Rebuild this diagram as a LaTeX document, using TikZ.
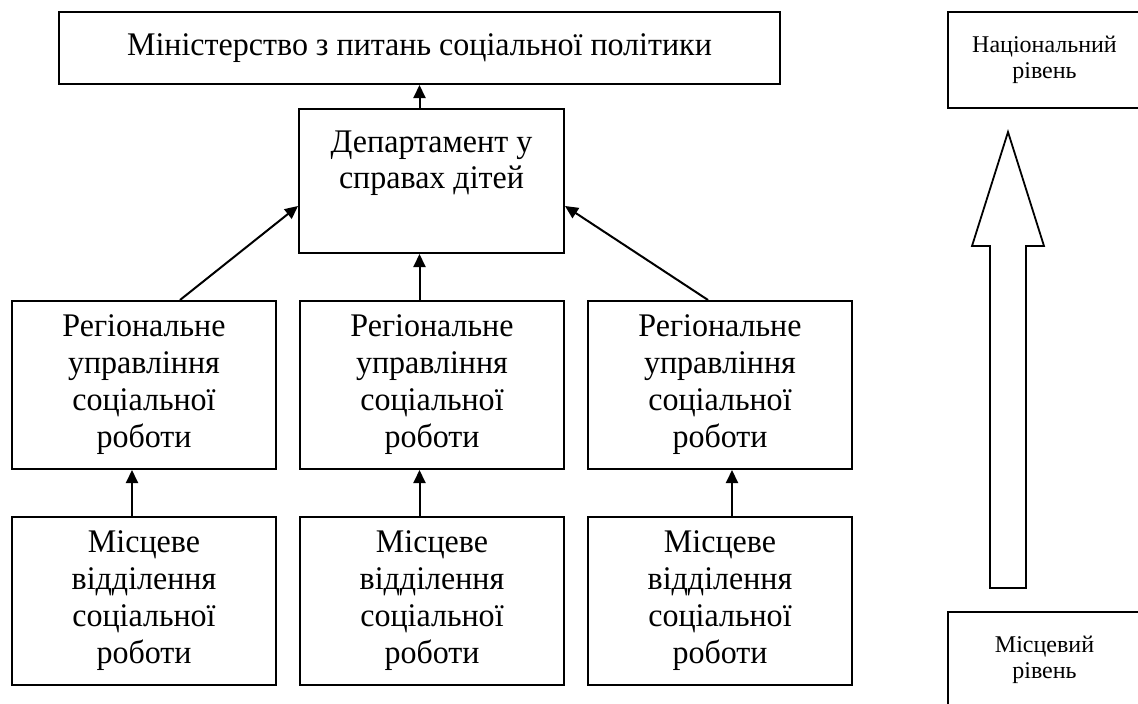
\documentclass[tikz,border=0pt]{standalone}
\usepackage{fontspec}
\setmainfont{Liberation Serif}
\newfontfamily\bodyfont{Liberation Serif}[FakeStretch=0.97]
\usetikzlibrary{arrows.meta}
\begin{document}
\begin{tikzpicture}[x=1pt,y=-1pt,
  box/.style={draw, line width=2pt, inner sep=0pt, align=center, font=\bodyfont\fontsize{33}{37}\selectfont},
  orgbox/.style={box, minimum width=264pt, minimum height=168pt},
  txt/.style={inner sep=0pt, align=center, font=\bodyfont\fontsize{33}{36}\selectfont},
  lvl/.style={draw, line width=2pt, inner sep=0pt, align=center, font=\fontsize{24}{26}\selectfont, minimum width=193pt, minimum height=96pt},
  conn/.style={line width=2pt, -{Triangle[length=13pt,width=12pt]}},
  big/.style={line width=1.8pt, line join=miter}]
\useasboundingbox (0,0) rectangle (1138,704);
% top
\node[box, minimum width=721pt, minimum height=72pt] (min) at (419.5,48) {Міністерство з питань соціальної політики};
\node[box, minimum width=265pt, minimum height=144pt] (dept) at (431.5,181) {};
\node[txt, anchor=north] (depttext) at ([yshift=-23pt]dept.north) {Департамент у\\справах дітей};
% regional
\node[orgbox] (reg1) at (144,385) {Регіональне\\управління\\соціальної\\роботи};
\node[orgbox] (reg2) at (432,385) {Регіональне\\управління\\соціальної\\роботи};
\node[orgbox] (reg3) at (720,385) {Регіональне\\управління\\соціальної\\роботи};
% local
\node[orgbox] (loc1) at (144,601) {Місцеве\\відділення\\соціальної\\роботи};
\node[orgbox] (loc2) at (432,601) {Місцеве\\відділення\\соціальної\\роботи};
\node[orgbox] (loc3) at (720,601) {Місцеве\\відділення\\соціальної\\роботи};
% connectors
\draw[conn] (min.south |- dept.north) -- (min.south);
\draw[conn] (min.south |- reg2.north) -- (min.south |- dept.south);
\draw[conn] ([xshift=36pt]reg1.north) -- ([yshift=-25pt]dept.west);
\draw[conn] ([xshift=-12pt]reg3.north) -- ([yshift=-25pt]dept.east);
\draw[conn] ([xshift=-12pt]loc1.north) -- ([xshift=-12pt]reg1.south);
\draw[conn] (min.south |- loc2.north) -- (min.south |- reg2.south);
\draw[conn] ([xshift=12pt]loc3.north) -- ([xshift=12pt]reg3.south);
% levels
\node[lvl] (nat) at (1044.5,60) {Національний\\рівень};
\node[lvl] (loclvl) at (1044.5,660) {Місцевий\\рівень};
\draw[big] (1008,132) -- (1044,246) -- (1026,246) -- (1026,588) -- (990,588) -- (990,246) -- (972,246) -- cycle;
\end{tikzpicture}
\end{document}
